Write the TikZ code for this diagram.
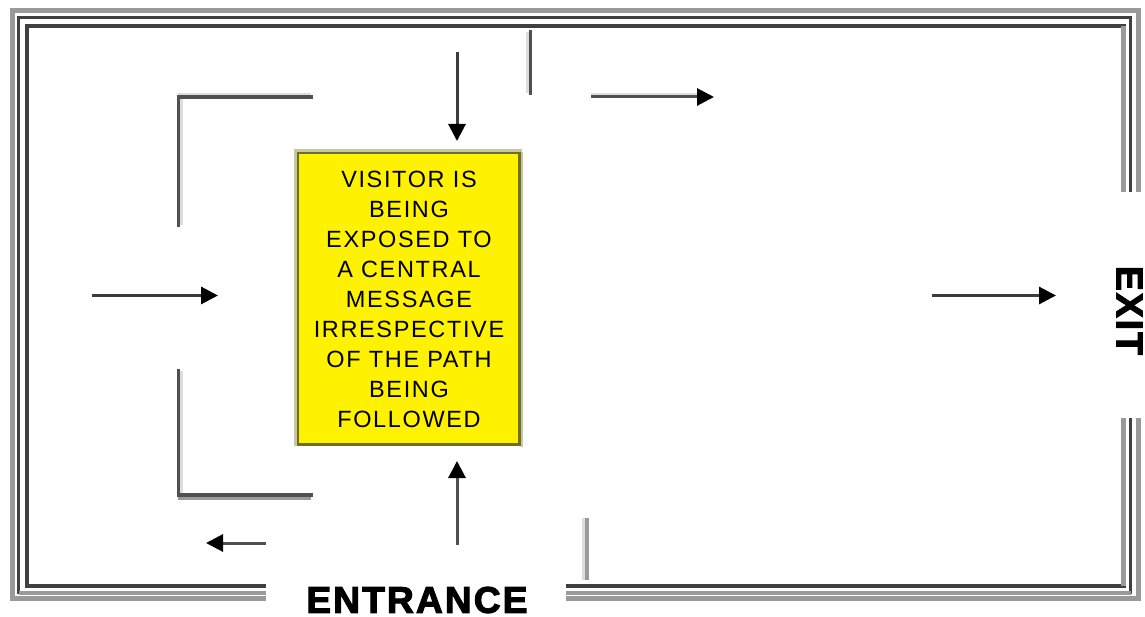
\documentclass[tikz,border=0pt]{standalone}
\usepackage{fontspec}
\setmainfont{Liberation Sans}
\usetikzlibrary{arrows.meta}
\definecolor{walldark}{HTML}{505050}
\definecolor{walllight}{HTML}{DDDDDD}
\definecolor{framegray}{HTML}{9A9A9A}
\definecolor{framedark}{HTML}{404040}
\definecolor{boxolive}{HTML}{6E6E28}
\definecolor{boxlight}{HTML}{C8C8A0}
\definecolor{shaftgray}{HTML}{3C3C3C}
\tikzset{
  wall/.style={draw=walldark, line width=3.2pt, line cap=rect},
  wallhi/.style={draw=walllight, line width=2.5pt},
  outerline/.style={draw=framegray, line width=5pt},
  midline/.style={draw=framedark, line width=3pt},
  innerline/.style={draw=framedark, line width=4pt},
  flow/.style={draw=shaftgray, line width=3pt, -{Triangle[length=17pt,width=17pt,color=black,fill=black]}},
  msg/.style={font=\fontsize{23.5pt}{29.9pt}\selectfont\addfontfeature{LetterSpace=7}, align=center, inner sep=0pt},
  sign/.style={font=\fontsize{37pt}{40pt}\selectfont\bfseries\addfontfeature{LetterSpace=6,FakeBold=3}, inner sep=0pt}
}
\begin{document}
\begin{tikzpicture}[x=1pt,y=-1pt]
\useasboundingbox (0,0) rectangle (1145,617);
% outer frame (three nested lines), gaps at entrance and exit
\draw[outerline] (266,598) -- (12,598) -- (12,11) -- (1138,11) -- (1138,192);
\draw[outerline] (1138,418) -- (1138,598) -- (566,598);
\draw[midline] (266,592.5) -- (18.5,592.5) -- (18.5,17.5) -- (1130.5,17.5) -- (1130.5,192);
\draw[midline] (1130.5,418) -- (1130.5,592.5) -- (566,592.5);
\draw[innerline] (266,585.5) -- (26.5,585.5) -- (26.5,26) -- (1123.5,26) -- (1123.5,192);
\draw[innerline] (1123.5,418) -- (1123.5,585.5) -- (566,585.5);
% bevel tones on right and bottom
\draw[draw=framegray, line width=5pt] (1123.5,26) -- (1123.5,192);
\draw[draw=framegray, line width=5pt] (1123.5,418) -- (1123.5,585.5);
\draw[draw=framegray, line width=4pt] (266,592.5) -- (18.5,592.5);
\draw[draw=framegray, line width=4pt] (1130.5,592.5) -- (566,592.5);
% interior walls
\draw[wallhi] (181.5,99) -- (181.5,225);
\draw[wallhi] (178,94) -- (311,94);
\draw[wall] (178.5,97) -- (311,97);
\draw[wall] (178.5,97) -- (178.5,225);
\draw[wallhi] (181.5,371) -- (181.5,493);
\draw[draw=framegray, line width=3pt] (178,498) -- (311,498);
\draw[wall] (178.5,371) -- (178.5,495);
\draw[wall] (178.5,495) -- (311,495);
\draw[wallhi] (527.5,32) -- (527.5,93);
\draw[wall] (530.5,32) -- (530.5,93);
\draw[wallhi] (583.5,518) -- (583.5,580);
\draw[draw=framegray, line width=3.5pt] (587,518) -- (587,580);
% central message box
\draw[boxlight, line width=2.5pt] (295.5,446) -- (295.5,150.5) -- (522,150.5);
\draw[boxlight, line width=2pt] (522,152) -- (522,447);
\fill[yellow] (297,152) rectangle (520,445);
\draw[boxolive, line width=2.5pt] (298,153) rectangle (519.5,444.5);
\node[msg] (message) at (409,299.5) {VISITOR IS\\BEING\\EXPOSED TO\\A CENTRAL\\MESSAGE\\IRRESPECTIVE\\OF THE PATH\\BEING\\FOLLOWED};
% arrow end points
\coordinate (inA) at (92,295.5);
\coordinate (inB) at (218,295.5);
\coordinate (topA) at (457,52);
\coordinate (topB) at (457,141);
\coordinate (trA) at (591,97);
\coordinate (trB) at (714,97);
\coordinate (rtA) at (932,295.5);
\coordinate (rtB) at (1056,295.5);
\coordinate (upA) at (457,545);
\coordinate (upB) at (457,461);
\coordinate (blA) at (266,543);
\coordinate (blB) at (206,543);
\draw[flow] (inA) -- (inB);
\draw[flow] (topA) -- (topB);
\draw[draw=walllight, line width=2pt] (591,94.5) -- (698,94.5);
\draw[flow, draw=walldark] (trA) -- (trB);
\draw[flow] (rtA) -- (rtB);
\draw[flow, draw=walldark] (upA) -- (upB);
\draw[flow, draw=walldark] (blA) -- (blB);
% labels
\node[sign] (entrance) at (417,600) {ENTRANCE};
\node[sign, rotate=-90] (exit) at (1129.5,310.5) {EXIT};
\end{tikzpicture}
\end{document}
